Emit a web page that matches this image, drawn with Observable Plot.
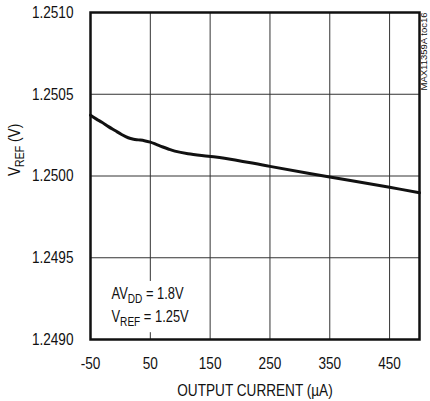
<!DOCTYPE html>
<html>
<head>
<meta charset="utf-8">
<script src="https://cdn.jsdelivr.net/npm/d3@7"></script>
<script src="https://cdn.jsdelivr.net/npm/@observablehq/plot@0.6"></script>
<style>
  html, body { margin: 0; padding: 0; background: white; }
</style>
</head>
<body>
<div id="chart"></div>
<script>
// Output current (µA) vs reference voltage (V)
const current = [-50, -40, -31, -20, -9, 2, 13, 22, 30, 40, 50, 60, 69, 80, 91, 113, 147, 174, 250, 350, 450, 500];
const vref = [1.250372, 1.250348, 1.250329, 1.250302, 1.250278, 1.250254, 1.250234, 1.250225, 1.250221, 1.250216, 1.250207, 1.250193, 1.250180, 1.250165, 1.250152, 1.250136, 1.250121, 1.250109, 1.250059, 1.249994, 1.249931, 1.249897];

const xTicks = [-50, 50, 150, 250, 350, 450];
const yTicks = [1.2490, 1.2495, 1.2500, 1.2505, 1.2510];

const xLabel = ["OUTPUT CURRENT (µA)"];
const yLabel = ["VREF (V)"];
const noteLines = ["AVDD = 1.8V", "VREF = 1.25V"];
const docId = ["MAX11359A toc16"];

const data = current.map((c, i) => ({current: c, vref: vref[i]}));

const FONT = '"Liberation Sans", Arial, sans-serif';

const chart = Plot.plot({
  width: 430,
  height: 401,
  marginLeft: 90,
  marginRight: 11,
  marginTop: 12,
  marginBottom: 62,
  style: {fontFamily: FONT, fontSize: "17px", color: "#111", background: "white"},
  x: {domain: [-50, 500], ticks: xTicks, label: null},
  y: {domain: [1.2490, 1.2510], ticks: yTicks, label: null},
  marks: [
    Plot.ruleX(xTicks, {stroke: "#333", strokeWidth: 1}),
    Plot.ruleY(yTicks, {stroke: "#333", strokeWidth: 1}),
    Plot.line(data, {x: "current", y: "vref", stroke: "#111", strokeWidth: 3, curve: "catmull-rom"}),
    Plot.text([noteLines[0]], {frameAnchor: "bottom-left", dx: 21, dy: -46, textAnchor: "start", lineAnchor: "middle",
      fill: "#111", fontSize: 17, className: "note"}),
    Plot.text([noteLines[1]], {frameAnchor: "bottom-left", dx: 21, dy: -23, textAnchor: "start", lineAnchor: "middle",
      fill: "#111", fontSize: 17, className: "note"}),
    Plot.frame({stroke: "#111", strokeWidth: 2.5}),
    Plot.axisX({ticks: xTicks, tickSize: 0, tickPadding: 17, label: null, fontSize: 17, tickFormat: d => String(d)}),
    Plot.axisY({ticks: yTicks, tickSize: 0, tickPadding: 17, label: null, tickFormat: d3.format(".4f"), fontSize: 17}),
    Plot.text(xLabel, {frameAnchor: "bottom", dy: 44, lineAnchor: "top", fontSize: 17, fill: "#111"}),
    Plot.text(yLabel, {frameAnchor: "left", dx: -76, rotate: -90, lineAnchor: "middle", fontSize: 17, fill: "#111"}),
    Plot.text(docId, {frameAnchor: "top-right", dx: 4, rotate: -90, textAnchor: "end", lineAnchor: "middle", fontSize: 9.5, fill: "#111", className: "docid"})
  ]
});

document.getElementById("chart").appendChild(chart);

// Add subscripts (DD, REF) to the relevant text elements
const subRe = /^(A?V)(DD|REF)(.*)$/;
const ns = "http://www.w3.org/2000/svg";
d3.select(chart).selectAll("text").each(function() {
  const el = this;
  if (el.querySelector("tspan")) return;
  const m = el.textContent.match(subRe);
  if (!m) return;
  const fs = 17;
  el.textContent = "";
  const a = document.createElementNS(ns, "tspan"); a.textContent = m[1];
  const b = document.createElementNS(ns, "tspan"); b.textContent = m[2];
  b.setAttribute("dy", 0.25 * fs); b.setAttribute("font-size", 0.78 * fs);
  const c = document.createElementNS(ns, "tspan"); c.textContent = m[3];
  c.setAttribute("dy", -0.25 * fs);
  el.append(a, b, c);
});

// Condense glyphs horizontally to mimic a narrow Helvetica face
d3.select(chart).selectAll("text").each(function() {
  if (this.closest("g.docid")) return;
  const len = this.getComputedTextLength();
  if (len > 0) {
    const isNote = this.closest("g.note") !== null;
    this.setAttribute("textLength", (len * (isNote ? 0.76 : 0.8)).toFixed(2));
    this.setAttribute("lengthAdjust", "spacingAndGlyphs");
  }
});

// White box behind the annotation (interrupts the grid line, as in the original)
{
  const svgRect = chart.getBoundingClientRect();
  const notes = chart.querySelectorAll("g.note text");
  let x0 = Infinity, y0 = Infinity, x1 = -Infinity, y1 = -Infinity;
  notes.forEach(t => {
    const r = t.getBoundingClientRect();
    x0 = Math.min(x0, r.left - svgRect.left); y0 = Math.min(y0, r.top - svgRect.top);
    x1 = Math.max(x1, r.right - svgRect.left); y1 = Math.max(y1, r.bottom - svgRect.top);
  });
  if (isFinite(x0)) {
    const pad = 3;
    const rect = document.createElementNS(ns, "rect");
    rect.setAttribute("x", x0 - pad); rect.setAttribute("y", y0 - pad);
    rect.setAttribute("width", x1 - x0 + 2 * pad); rect.setAttribute("height", y1 - y0 + 2 * pad);
    rect.setAttribute("fill", "white");
    const firstNote = chart.querySelector("g.note");
    firstNote.parentNode.insertBefore(rect, firstNote);
  }
}
</script>
</body>
</html>
